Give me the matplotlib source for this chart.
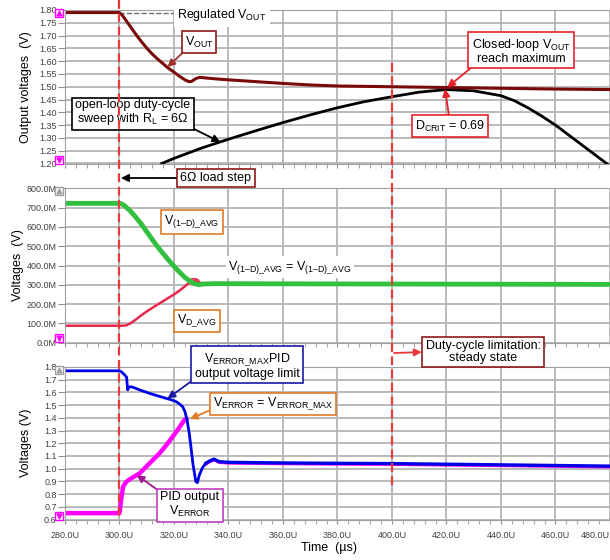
import numpy as np
import matplotlib
matplotlib.use('Agg')
import matplotlib.pyplot as plt
from matplotlib.ticker import MultipleLocator, FuncFormatter
from matplotlib.patches import Ellipse
import matplotlib.transforms as mtransforms

plt.rcParams['font.family'] = ['Liberation Sans', 'DejaVu Sans']
plt.rcParams['mathtext.fontset'] = 'custom'
plt.rcParams['mathtext.rm'] = 'Liberation Sans'
plt.rcParams['mathtext.it'] = 'Liberation Sans:italic'

# --- output voltages (V) ---
vout_reg = 1.79
vout_t = [280, 300, 301, 302, 304, 306, 308, 310, 312, 314, 316, 318, 320, 322, 324,
          325.5, 326.5, 328, 329.5, 331, 335, 340, 350, 360, 370, 380, 400, 420, 440, 460, 480]
vout_v = [1.79, 1.79, 1.78, 1.765, 1.735, 1.705, 1.677, 1.651, 1.628, 1.608, 1.590, 1.572,
          1.557, 1.541, 1.527, 1.520, 1.521, 1.532, 1.537, 1.535, 1.531, 1.527, 1.520, 1.513,
          1.507, 1.503, 1.500, 1.497, 1.494, 1.491, 1.489]
sweep_t = [315.5, 320, 330, 340, 350, 360, 370, 380, 390, 400, 410, 420, 430, 440, 445,
           450, 455, 460, 465, 470, 475, 480]
sweep_v = [1.20, 1.22, 1.26, 1.295, 1.328, 1.36, 1.39, 1.418, 1.442, 1.461, 1.479, 1.489,
           1.484, 1.465, 1.445, 1.417, 1.385, 1.35, 1.31, 1.27, 1.23, 1.19]
d_crit_t = 420
d_crit_v = 1.492

# --- averaged duty-cycle voltages (V) ---
v1d_t = [280, 300, 301, 302, 304, 306, 308, 310, 312, 314, 316, 318, 320, 322, 324, 326,
         327.5, 329, 330.5, 335, 360, 400, 440, 480]
v1d_v = [0.722, 0.722, 0.718, 0.708, 0.682, 0.650, 0.615, 0.575, 0.535, 0.497, 0.462, 0.428,
         0.396, 0.366, 0.338, 0.318, 0.306, 0.300, 0.304, 0.306, 0.305, 0.304, 0.303, 0.302]
vd_t = [280, 301, 302.5, 304, 306, 308, 310, 312, 314, 316, 318, 320, 322, 324, 325.5,
        326.5, 327.5, 328.5, 330, 340, 480]
vd_v = [0.088, 0.088, 0.090, 0.100, 0.120, 0.142, 0.162, 0.180, 0.198, 0.215, 0.233, 0.250,
        0.270, 0.292, 0.310, 0.318, 0.320, 0.316, 0.308, 0.306, 0.302]

# --- PID error voltages (V) ---
verr_max_t = [280, 300, 300.8, 301.8, 302.6, 303.0, 303.4, 304.0, 305, 308, 311, 314, 317,
              319, 320.8, 322, 323.2, 324, 324.8, 325.6, 326.2, 327, 328, 328.6, 329.3,
              330.5, 331.7, 333, 334.7, 336.6, 340, 360, 380, 400, 420, 440, 460, 480]
verr_max_v = [1.77, 1.77, 1.76, 1.74, 1.72, 1.62, 1.64, 1.645, 1.64, 1.615, 1.593, 1.573,
              1.554, 1.542, 1.527, 1.51, 1.487, 1.45, 1.38, 1.278, 1.173, 1.03, 0.90, 0.89,
              0.95, 1.01, 1.042, 1.06, 1.075, 1.055, 1.05, 1.045, 1.042, 1.04, 1.035, 1.03,
              1.025, 1.02]
verr_t = [280, 300, 300.5, 301.3, 302.5, 304, 307.4, 310, 314.7, 317, 319.5, 321.5, 323.8, 325.2]
verr_v = [0.65, 0.65, 0.74, 0.858, 0.897, 0.92, 0.963, 1.02, 1.121, 1.18, 1.251, 1.31, 1.383, 1.40]

time_ticks = [280, 300, 320, 340, 360, 380, 400, 420, 440, 460, 480]
t_step = 300
t_limit = 400

W, H = 610, 560
fig = plt.figure(figsize=(W / 100, H / 100), dpi=100)


def px(x, y):
    return (x / W, 1 - y / H)


def make_axes(top, bottom):
    return fig.add_axes([65 / W, 1 - bottom / H, (W - 65) / W, (bottom - top) / H])


ax1 = make_axes(10, 163.5)
ax2 = make_axes(188.3, 342.7)
ax3 = make_axes(367, 519.5)

grid_c = '#b4b4b4'
for ax in (ax1, ax2, ax3):
    ax.set_xlim(time_ticks[0], time_ticks[-1])
    ax.set_xticks(time_ticks)
    ax.xaxis.set_minor_locator(MultipleLocator(4))
    ax.grid(True, which='major', color=grid_c, lw=1.3)
    ax.set_axisbelow(True)
    for s in ax.spines.values():
        s.set_color('#a0a0a0')
    ax.spines['right'].set_visible(False)
    ax.tick_params(axis='x', which='both', direction='out', length=3, color='#909090',
                   labelsize=6.5, labelcolor='#404040', pad=5)
    ax.tick_params(axis='y', direction='out', length=5, color='#909090',
                   labelsize=6.5, labelcolor='#404040', pad=1)
    ax.yaxis.set_label_coords(-0.06, 0.5)

ax1.set_ylim(1.20, 1.80)
ax1.yaxis.set_major_locator(MultipleLocator(0.05))
ax1.yaxis.set_major_formatter(FuncFormatter(lambda v, p: f'{v:.2f}'))
ax2.set_ylim(0, 0.8)
ax2.yaxis.set_major_locator(MultipleLocator(0.1))
ax2.yaxis.set_major_formatter(FuncFormatter(lambda v, p: f'{v * 1000:.1f}M'))
ax3.set_ylim(0.6, 1.8)
ax3.yaxis.set_major_locator(MultipleLocator(0.1))
ax3.yaxis.set_major_formatter(FuncFormatter(lambda v, p: f'{v:.1f}'))
ax1.tick_params(axis='x', labelbottom=False)
ax2.tick_params(axis='x', labelbottom=False)
ax3.set_xticklabels([f'{t:.1f}U' for t in time_ticks])
# keep the last time label inside the figure
ax3.xaxis.get_major_ticks()[-1].label1.set_horizontalalignment('right')

ax1.set_ylabel('Output voltages  (V)', fontsize=9)
ax2.set_ylabel('Voltages  (V)', fontsize=9)
ax2.yaxis.set_label_coords(-0.076, 0.5)
ax3.set_ylabel('Voltages (V)', fontsize=9)
ax3.set_xlabel('Time  (µs)', fontsize=9)
ax3.xaxis.set_label_coords(0.485, -0.15)

# curves
ax1.plot([t_step, 321.5], [vout_reg, vout_reg], ls='--', color='#707070', lw=1)
ax1.plot(sweep_t, sweep_v, color='black', lw=2)
ax1.plot(vout_t, vout_v, color='#7a0a0a', lw=2.2)

ax2.plot(vd_t, vd_v, color='#e8284a', lw=1.8)
ax2.plot(v1d_t, v1d_v, color='#33c040', lw=3.5)
ax2.add_patch(Ellipse((327.3, 0.318), 3.6, 0.026, fill=False, ec='#e8284a', lw=1.3))

ax3.plot(verr_t, verr_v, color='#ff00ff', lw=3.2, solid_capstyle='butt')
ax3.plot(verr_max_t[26:], verr_max_v[26:], color='#ff00ff', lw=2.2,
         transform=mtransforms.offset_copy(ax3.transData, fig=fig, y=-0.8, units='dots'))
ax3.plot(verr_max_t[:27], verr_max_v[:27], color='#0000e6', lw=2)
ax3.plot(verr_max_t[26:], verr_max_v[26:], color='#0000e6', lw=2.4)

# dashed markers for the load step and the duty-cycle limit
red = '#e83a3d'
bt = mtransforms.blended_transform_factory(ax1.transData, fig.transFigure)
fig.add_artist(plt.Line2D([t_step, t_step], [1, 1 - 520 / H], transform=bt,
                          color=red, lw=1.6, dashes=(4, 2), zorder=10))
fig.add_artist(plt.Line2D([t_limit, t_limit], [1 - 63 / H, 1 - 490 / H], transform=bt,
                          color=red, lw=1.6, dashes=(4, 2), zorder=10))

# axis end markers
for y, up, c in [(13, True, '#ff00ff'), (160, False, '#ff00ff'), (191, True, '#a0a0a0'),
                 (338, False, '#ff00ff'), (370, True, '#a0a0a0'), (516, False, '#ff00ff')]:
    x0, y0 = px(59, y)
    fig.add_artist(plt.Line2D([x0], [y0], marker='s', ms=6, mfc='white', mec=c, mew=1,
                              transform=fig.transFigure))
    fig.add_artist(plt.Line2D([x0], [y0], marker='^' if up else 'v', ms=3.5, mfc=c, mec=c,
                              transform=fig.transFigure))


def box(ec):
    return dict(boxstyle='square,pad=0.25', fc='white', ec=ec, lw=1.2)


def note(ax, text, xy, center, ec, ac, relpos, xycoords='data', style='-|>', **kw):
    ax.annotate(text, xy=xy, xycoords=xycoords, xytext=px(*center),
                textcoords='figure fraction', ha='center', va='center', fontsize=9,
                bbox=box(ec), annotation_clip=False,
                arrowprops=dict(arrowstyle=style, color=ac, lw=1.3, mutation_scale=11,
                                shrinkA=0, shrinkB=0, relpos=relpos), **kw)


ax1.text(*px(222, 15), 'Regulated V$_\\mathregular{OUT}$', transform=fig.transFigure,
         ha='center', va='center', fontsize=9,
         bbox=dict(boxstyle='square,pad=0.3', fc='white', ec='none'))
note(ax1, 'V$_\\mathregular{OUT}$', (317.6, 1.577), (199, 42), '#8b1a1a', '#a03028', (0.05, 0))
note(ax1, 'open-loop duty-cycle\nsweep with R$_\\mathregular{L}$ = 6Ω', (337, 1.284),
     (133, 113), 'black', 'black', (0.97, 0.05), linespacing=1.0)
note(ax1, 'Closed-loop V$_\\mathregular{OUT}$\nreach maximum', (d_crit_t + 0.3, 1.498),
     (521, 51), '#e8202a', '#e8202a', (0.03, 0), linespacing=1.0)
note(ax1, 'D$_\\mathregular{CRIT}$ = 0.69', (d_crit_t - 0.5, d_crit_v), (450, 126),
     '#e8202a', '#e8202a', (0.49, 1))
note(ax2, '6Ω load step', px(121, 178), (216, 178), '#8b1a1a', 'black', (0, 0.5),
     xycoords='figure fraction')

ax2.text(*px(192, 222), 'V$_\\mathregular{(1–D)\\_AVG}$', transform=fig.transFigure,
         ha='center', va='center', fontsize=9, bbox=box('#e07b28'))
ax2.text(*px(290, 267), 'V$_\\mathregular{(1–D)\\_AVG}$ = V$_\\mathregular{(1–D)\\_AVG}$',
         transform=fig.transFigure, ha='center', va='center', fontsize=9,
         bbox=dict(boxstyle='square,pad=0.2', fc='white', ec='none'))
ax2.text(*px(197, 321), 'V$_\\mathregular{D\\_AVG}$', transform=fig.transFigure,
         ha='center', va='center', fontsize=9, bbox=box('#e07b28'))

note(ax3, 'V$_\\mathregular{ERROR\\_MAX}$PID\noutput voltage limit', (317.6, 1.552),
     (247, 366), '#1a1aa0', '#1a1aa0', (0.02, 0.1), linespacing=1.0)
note(ax3, 'V$_\\mathregular{ERROR}$ = V$_\\mathregular{ERROR\\_MAX}$', (325.8, 1.39),
     (273, 404), '#e07b28', '#e07b28', (0, 0.2))
note(ax3, 'PID output\nV$_\\mathregular{ERROR}$', (306.3, 0.95), (190, 505), '#c040c0',
     '#a01890', (0.02, 0.95), linespacing=1.0)
note(ax3, 'Duty-cycle limitation:\nsteady state', px(394, 353), (483, 352), '#8b1a1a',
     red, (0, 0.5), xycoords='figure fraction', style='<|-', linespacing=1.0)

fig.savefig('out.png', dpi=100)
